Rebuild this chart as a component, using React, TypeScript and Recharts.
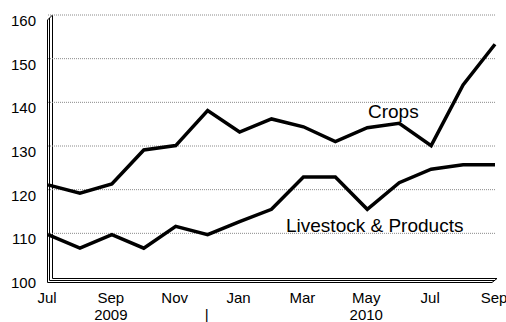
import React from "react";
import { LineChart, Line, XAxis, YAxis, ReferenceLine, Customized } from "recharts";

const months = ["Jul", "Aug", "Sep", "Oct", "Nov", "Dec", "Jan", "Feb", "Mar", "Apr", "May", "Jun", "Jul", "Aug", "Sep"];
const years = [2009, 2009, 2009, 2009, 2009, 2009, 2010, 2010, 2010, 2010, 2010, 2010, 2010, 2010, 2010];
const crops = [121.1, 119.2, 121.3, 129.1, 130.1, 138.1, 133.2, 136.2, 134.4, 131.0, 134.2, 135.2, 130.1, 144.0, 153.3];
const livestock = [109.7, 106.6, 109.7, 106.6, 111.6, 109.7, 112.7, 115.5, 122.9, 122.9, 115.5, 121.6, 124.7, 125.7, 125.7];
// second row of the category axis: year names and the group divider
const yearRow = ["", "", "2009", "", "", "|", "", "", "", "", "2010", "", "", "", ""];
const yTicks = [100, 110, 120, 130, 140, 150, 160];
const gridValues = [110, 120, 130, 140, 150, 160];

const data = months.map((m, i) => ({
  key: `${years[i]}-${i}`,
  month: m,
  crops: crops[i],
  livestock: livestock[i],
}));

const W = 506;
const H = 322;
const FONT = "Arial, 'Liberation Sans', sans-serif";

const XTick = (props: any) => {
  const { x, y, index } = props;
  return (
    <g>
      {index % 2 === 0 && (
        <text x={x - 1} y={y + 26} textAnchor="middle" fontSize={15} fontFamily={FONT} fill="#000">
          {months[index]}
        </text>
      )}
      {yearRow[index] && (
        <text x={x - 1} y={y + 43} textAnchor="middle" fontSize={15} fontFamily={FONT} fill="#000">
          {yearRow[index]}
        </text>
      )}
    </g>
  );
};

const YTick = (props: any) => {
  const { y, payload } = props;
  return (
    <text x={36} y={y + 11} textAnchor="end" fontSize={15} fontFamily={FONT} fill="#000">
      {payload.value}
    </text>
  );
};

// wall and floor of the 3-D plot frame, plus series captions
const Frame = () => (
  <g>
    <path
      d="M47.5 20 V282.5 H492 L497 278.5 M49.5 18 V280.5 H494.5 M52.5 15 V278.5 H497 M47.5 20 L52.5 15"
      stroke="#000"
      strokeWidth={1}
      fill="none"
    />
    <text x={368} y={118} fontSize={19} fontFamily={FONT} fill="#000">Crops</text>
    <text x={286} y={232} fontSize={19} fontFamily={FONT} fill="#000">Livestock &amp; Products</text>
  </g>
);

export default function App() {
  return (
    <div style={{ position: "absolute", left: 0, top: 0, width: W, height: H, background: "#fff" }}>
      <LineChart width={W} height={H} data={data} margin={{ top: 15, right: 11, left: 0, bottom: 0 }}>
        <XAxis
          dataKey="key"
          height={45}
          interval={0}
          axisLine={false}
          tickLine={false}
          tickSize={0}
          tickMargin={0}
          tick={<XTick />}
        />
        <YAxis
          width={48}
          domain={[100, 160]}
          ticks={yTicks}
          axisLine={false}
          tickLine={false}
          tick={<YTick />}
        />
        {gridValues.map((v) => (
          <ReferenceLine key={v} y={v} stroke="#8a8a8a" strokeDasharray="1 1" />
        ))}
        <Customized component={<Frame />} />
        <Line dataKey="crops" stroke="#000" strokeWidth={3.5} dot={false} isAnimationActive={false} />
        <Line dataKey="livestock" stroke="#000" strokeWidth={3.5} dot={false} isAnimationActive={false} />
      </LineChart>
    </div>
  );
}
